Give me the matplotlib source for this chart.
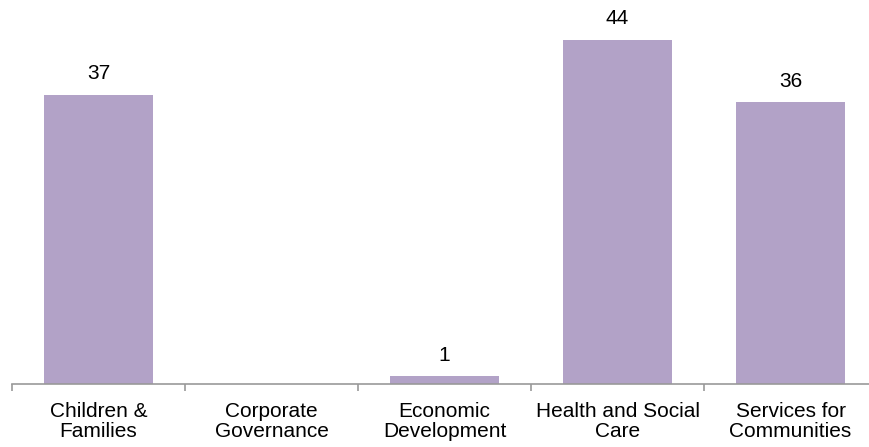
import matplotlib
matplotlib.use("Agg")
import matplotlib.pyplot as plt
from matplotlib.ticker import FixedLocator, NullFormatter

categories = ["Children &\nFamilies", "Corporate\nGovernance", "Economic\nDevelopment",
              "Health and Social\nCare", "Services for\nCommunities"]
values = [37, 0, 1, 44, 36]
labels = ["37", "", "1", "44", "36"]

plt.rcParams['font.family'] = ['Liberation Sans', 'DejaVu Sans']

fig = plt.figure(figsize=(8.7, 4.47), dpi=100)
ax = fig.add_axes([12/870, 1 - 384/447, (877-12)/870, 384/447])

x = list(range(len(categories)))
bars = ax.bar(x, values, width=0.63, color="#b2a2c7")
for b, lab in zip(bars, labels):
    if lab:
        ax.text(b.get_x() + b.get_width()/2, b.get_height() + 2.0, lab,
                ha="center", va="baseline", fontsize=15, color="black")

ax.set_xlim(-0.5, len(categories) - 0.5)
ax.set_ylim(0, 49.1)
for s in ["top", "right", "left"]:
    ax.spines[s].set_visible(False)
ax.spines["bottom"].set_color("#999999")
ax.spines["bottom"].set_linewidth(1.2)
ax.set_yticks([])
ax.set_xticks(x)
ax.set_xticklabels(categories, fontsize=15, linespacing=1.05)
ax.tick_params(axis="x", length=0, pad=13)
ax.xaxis.set_minor_locator(FixedLocator([i - 0.5 for i in range(len(categories) + 1)]))
ax.xaxis.set_minor_formatter(NullFormatter())
ax.tick_params(axis="x", which="minor", length=5, color="#999999", width=1.2)

fig.savefig("out.png", dpi=100)
